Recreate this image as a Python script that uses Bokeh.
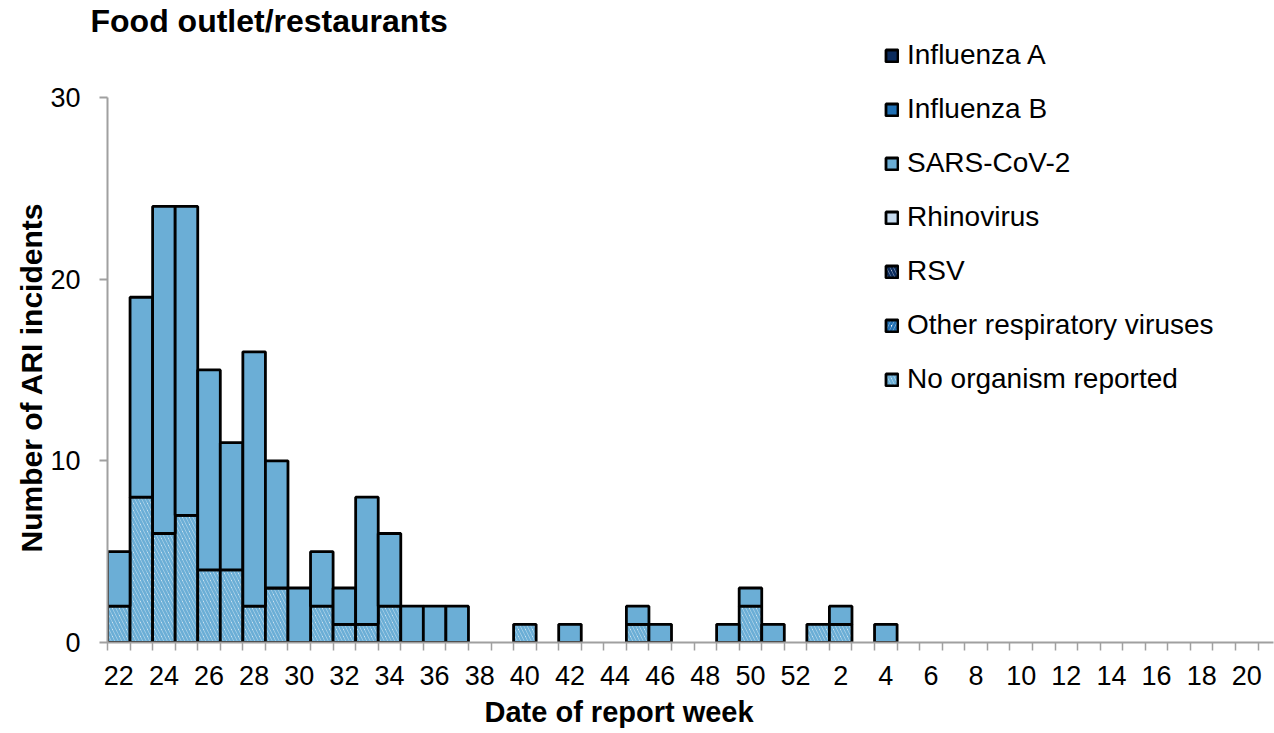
from bokeh.plotting import figure
from bokeh.models import (ColumnDataSource, FixedTicker, Legend, LegendItem, Title,
                          CDSView, IndexFilter)
from bokeh.embed import file_html
from bokeh.resources import INLINE

# ---------------- data ----------------
weeks = ["22", "23", "24", "25", "26", "27", "28", "29", "30", "31",
         "32", "33", "34", "35", "36", "37", "38", "39", "40", "41",
         "42", "43", "44", "45", "46", "47", "48", "49", "50", "51",
         "52", "1", "2", "3", "4", "5", "6", "7", "8", "9",
         "10", "11", "12", "13", "14", "15", "16", "17", "18", "19", "20"]

influenza_a = [0, 0, 0, 0, 0, 0, 0, 0, 0, 0,
               0, 0, 0, 0, 0, 0, 0, 0, 0, 0,
               0, 0, 0, 0, 0, 0, 0, 0, 0, 0,
               0, 0, 0, 0, 0, 0, 0, 0, 0, 0,
               0, 0, 0, 0, 0, 0, 0, 0, 0, 0, 0]
influenza_b = [0, 0, 0, 0, 0, 0, 0, 0, 0, 0,
               0, 0, 0, 0, 0, 0, 0, 0, 0, 0,
               0, 0, 0, 0, 0, 0, 0, 0, 0, 0,
               0, 0, 0, 0, 0, 0, 0, 0, 0, 0,
               0, 0, 0, 0, 0, 0, 0, 0, 0, 0, 0]
sars_cov_2 = [3, 11, 18, 17, 11, 7, 14, 7, 3, 3,
              2, 7, 4, 2, 2, 2, 0, 0, 0, 0,
              1, 0, 0, 1, 1, 0, 0, 1, 1, 1,
              0, 0, 1, 0, 1, 0, 0, 0, 0, 0,
              0, 0, 0, 0, 0, 0, 0, 0, 0, 0, 0]
rhinovirus = [0, 0, 0, 0, 0, 0, 0, 0, 0, 0,
              0, 0, 0, 0, 0, 0, 0, 0, 0, 0,
              0, 0, 0, 0, 0, 0, 0, 0, 0, 0,
              0, 0, 0, 0, 0, 0, 0, 0, 0, 0,
              0, 0, 0, 0, 0, 0, 0, 0, 0, 0, 0]
rsv = [0, 0, 0, 0, 0, 0, 0, 0, 0, 0,
       0, 0, 0, 0, 0, 0, 0, 0, 0, 0,
       0, 0, 0, 0, 0, 0, 0, 0, 0, 0,
       0, 0, 0, 0, 0, 0, 0, 0, 0, 0,
       0, 0, 0, 0, 0, 0, 0, 0, 0, 0, 0]
other_resp = [0, 0, 0, 0, 0, 0, 0, 0, 0, 0,
              0, 0, 0, 0, 0, 0, 0, 0, 0, 0,
              0, 0, 0, 0, 0, 0, 0, 0, 0, 0,
              0, 0, 0, 0, 0, 0, 0, 0, 0, 0,
              0, 0, 0, 0, 0, 0, 0, 0, 0, 0, 0]
no_organism = [2, 8, 6, 7, 4, 4, 2, 3, 0, 2,
               1, 1, 2, 0, 0, 0, 0, 0, 1, 0,
               0, 0, 0, 1, 0, 0, 0, 0, 2, 0,
               0, 1, 1, 0, 0, 0, 0, 0, 0, 0,
               0, 0, 0, 0, 0, 0, 0, 0, 0, 0, 0]

y_ticks = [0, 10, 20, 30]
title_text = "Food outlet/restaurants"
x_title = "Date of report week"
y_title = "Number of ARI incidents"

# series in legend order (top of legend = top of stack)
series = [
    ("Influenza A", influenza_a, dict(fill_color="#0b2c5e")),
    ("Influenza B", influenza_b, dict(fill_color="#2171b5")),
    ("SARS-CoV-2", sars_cov_2, dict(fill_color="#6baed6")),
    ("Rhinovirus", rhinovirus, dict(fill_color="#c6dbef")),
    ("RSV", rsv, dict(fill_color="white", hatch_pattern="\\", hatch_color="#0b2c5e")),
    ("Other respiratory viruses", other_resp, dict(fill_color="white", hatch_pattern="/", hatch_color="#2171b5")),
    ("No organism reported", no_organism, dict(fill_color="white", hatch_pattern="\\", hatch_color="#6baed6")),
]

# ---------------- layout ----------------
W, H = 1274, 733
MB_LEFT, MB_RIGHT, MB_TOP, MB_BOTTOM = 107, 1, 38, 90
frame_w = W - MB_LEFT - MB_RIGHT
frame_h = H - MB_TOP - MB_BOTTOM
px_per_cat = 22.56
px_per_unit = 546 / 30.0
x_start = -0.5
x_end = x_start + frame_w / px_per_cat
y_end = frame_h / px_per_unit

FONT = "Liberation Sans"
AXIS_GRAY = "#a0a0a0"

p = figure(width=W, height=H, output_backend="svg", toolbar_location=None,
           x_range=(x_start, x_end), y_range=(0, y_end),
           min_border_left=MB_LEFT, min_border_right=MB_RIGHT,
           min_border_top=MB_TOP, min_border_bottom=MB_BOTTOM)
p.outline_line_color = None
p.xgrid.visible = False
p.ygrid.visible = False
p.background_fill_color = "white"

p.title.text = title_text
p.title.align = "left"
p.title.offset = -17
p.title.standoff = 0
p.title.text_font = FONT
p.title.text_font_style = "bold"
p.title.text_font_size = "32px"
p.title.text_color = "black"

n = len(weeks)
xs = list(range(n))

# stacking from bottom: reverse of legend order
base = [0] * n
legend_renderers = {}
for name, vals, style in reversed(series):
    src = ColumnDataSource(dict(
        x=xs,
        bottom=list(base),
        top=[base[i] + vals[i] for i in xs],
    ))
    kw = dict(line_color="black", line_width=2.8)
    kw.update(style)
    if "hatch_pattern" in kw:
        kw.update(hatch_scale=7, hatch_weight=2.8)
    # drawn bars: only non-empty segments
    view = CDSView(filter=IndexFilter(indices=[i for i in xs if vals[i] > 0]))
    p.vbar(x="x", bottom="bottom", top="top", width=1.0, source=src, view=view, **kw)
    # hidden twin used only for the legend swatch
    legend_renderers[name] = p.vbar(x="x", bottom="bottom", top="top", width=1.0,
                                    source=src, visible=False, **kw)
    base = [base[i] + vals[i] for i in xs]

# x axis
xa = p.xaxis[0]
xa.ticker = FixedTicker(ticks=[i for i in xs if i % 2 == 0],
                        minor_ticks=[i - 0.5 for i in range(n + 1)])
xa.major_label_overrides = {i: weeks[i] for i in xs if i % 2 == 0}
xa.major_tick_out = 0
xa.major_tick_in = 0
xa.minor_tick_out = 8
xa.minor_tick_in = 0
xa.axis_line_color = AXIS_GRAY
xa.axis_line_width = 2
xa.minor_tick_line_color = AXIS_GRAY
xa.minor_tick_line_width = 1.5
xa.major_label_text_font = FONT
xa.major_label_text_font_size = "27px"
xa.major_label_text_color = "black"
xa.major_label_standoff = 15

# y axis
ya = p.yaxis[0]
ya.ticker = FixedTicker(ticks=y_ticks)
ya.bounds = (0, 30)
ya.major_tick_out = 8
ya.major_tick_in = 0
ya.minor_tick_out = 0
ya.minor_tick_in = 0
ya.axis_line_color = AXIS_GRAY
ya.axis_line_width = 2
ya.major_tick_line_color = AXIS_GRAY
ya.major_tick_line_width = 2
ya.major_label_text_font = FONT
ya.major_label_text_font_size = "27px"
ya.major_label_text_color = "black"
ya.major_label_standoff = 19

# axis titles
p.add_layout(Title(text=x_title, align="left", offset=377, standoff=12,
                   text_font=FONT, text_font_style="bold", text_font_size="29px",
                   text_color="black"), "below")
p.add_layout(Title(text=y_title, align="left", offset=90, standoff=0,
                   text_font=FONT, text_font_style="bold", text_font_size="30px",
                   text_color="black"), "left")

# legend
items = [LegendItem(label=name, renderers=[legend_renderers[name]]) for name, _, _ in series]
legend = Legend(items=items, location=(777, 246), orientation="vertical",
                glyph_width=15, glyph_height=15, label_height=34, spacing=20,
                label_standoff=8, padding=0, margin=0,
                label_text_font=FONT, label_text_font_size="28px",
                label_text_color="black", label_text_baseline="middle",
                border_line_color=None, background_fill_alpha=0)
p.add_layout(legend, "center")

open("out.html", "w").write(file_html(p, INLINE))
